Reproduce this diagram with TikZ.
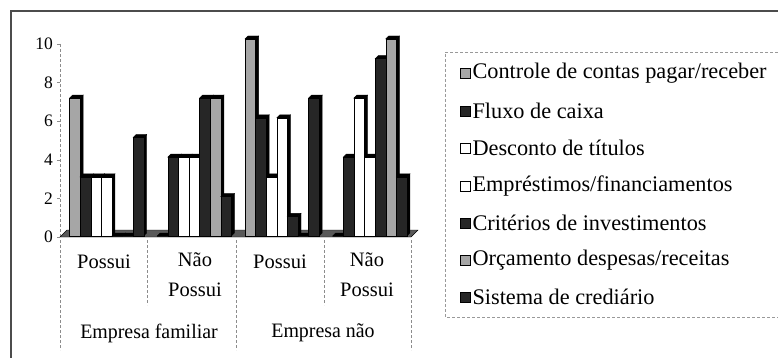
\documentclass[tikz,border=0pt]{standalone}
\usepackage{fontspec}
\setmainfont{Liberation Serif}
\usetikzlibrary{positioning}

% one 3D column: left x, value, style of the front face
\newcommand{\colbar}[3]{%
  \pgfmathsetmacro{\bl}{#1}
  \pgfmathsetmacro{\br}{#1+10.6}
  \pgfmathsetmacro{\bt}{236-19.7*#2}
  \draw[black,fill=black] (\br,236) -- (\br+3,233) -- (\br+3,\bt-3) -- (\br,\bt) -- cycle;
  \draw[black,fill=black] (\bl,\bt) -- (\bl+3,\bt-3) -- (\br+3,\bt-3) -- (\br,\bt) -- cycle;
  \draw[#3] (\bl,236) rectangle (\br,\bt);
}

\begin{document}
\begin{tikzpicture}[x=1pt,y=-1pt,
  grayface/.style={draw=black,fill=black!35},
  darkface/.style={draw=black,fill=black!85},
  whiteface/.style={draw=black,fill=white},
  swatch/.style={rectangle,minimum size=10pt,inner sep=0pt,line width=0.6pt},
  legtext/.style={inner sep=0pt,anchor=west,font=\fontsize{22.3}{24}\selectfont},
  catlabel/.style={inner sep=0pt,align=center,font=\fontsize{20.5}{30}\selectfont},
  ticklabel/.style={inner sep=0pt,anchor=east,font=\fontsize{17.5}{20}\selectfont},
  sep/.style={black!45,densely dashed,line width=0.5pt}]
\useasboundingbox (0,0) rectangle (778,358);

% frame
\draw[black!70,line width=1.4pt] (11,358) -- (11,11) -- (778,11);

% value axis
\draw[sep] (60,44) -- (60,237);
\foreach \v in {0,2,...,10} {
  \node[ticklabel] (tick\v) at (53,237-19.3*\v) {\v};
  \draw[black!45] (57,237-19.3*\v) -- (60,237-19.3*\v);
}

% floor
\draw[black,fill=black!65] (60,237) -- (411,237) -- (418,230) -- (67,230) -- cycle;

% columns
\foreach \g/\a/\b/\c/\d/\e/\f/\h in {69.5/7/3/3/3/0/0/5, 157.2/0/4/4/4/7/7/2,
                                    245/10/6/3/6/1/0/7, 332.7/0/4/7/4/9/10/3} {
  \colbar{\g}{\a}{grayface}
  \colbar{\g+10.6}{\b}{darkface}
  \colbar{\g+21.2}{\c}{whiteface}
  \colbar{\g+31.8}{\d}{whiteface}
  \colbar{\g+42.4}{\e}{darkface}
  \colbar{\g+53}{\f}{grayface}
  \colbar{\g+63.6}{\h}{darkface}
}

% category axis
\draw[sep] (60,240) -- (60,350);
\draw[sep] (147,240) -- (147,305);
\draw[sep] (236,240) -- (236,350);
\draw[sep] (324,240) -- (324,305);
\draw[sep] (411,240) -- (411,350);
\node[catlabel] (pos1) at (104,262) {Possui};
\node[catlabel] (nao1) at (195,275) {Não\\Possui};
\node[catlabel] (pos2) at (280,262) {Possui};
\node[catlabel] (nao2) at (367,275) {Não\\Possui};
\node[catlabel] (fam) at (149,333) {\scalebox{0.97}[1]{Empresa familiar}};
\node[catlabel] (nfam) at (323,333) {\scalebox{0.97}[1]{Empresa não}};

% legend
\draw[black!40,densely dashed,line width=0.6pt] (778,52) -- (445,52) -- (445,317) -- (778,317);
\node[swatch,grayface] (s1) at (465,73) {};
\node[swatch,darkface] (s2) at (465,111) {};
\node[swatch,whiteface] (s3) at (465,148) {};
\node[swatch,whiteface] (s4) at (465,186) {};
\node[swatch,darkface] (s5) at (465,223) {};
\node[swatch,grayface] (s6) at (465,260) {};
\node[swatch,darkface] (s7) at (465,297) {};
\node[legtext,right=2pt of s1] (t1) {Controle de contas pagar/receber};
\node[legtext,right=2pt of s2] (t2) {Fluxo de caixa};
\node[legtext,right=2pt of s3] (t3) {Desconto de títulos};
\node[legtext,right=2pt of s4] (t4) {Empréstimos/financiamentos};
\node[legtext,right=2pt of s5] (t5) {Critérios de investimentos};
\node[legtext,right=2pt of s6] (t6) {Orçamento despesas/receitas};
\node[legtext,right=2pt of s7] (t7) {Sistema de crediário};
\end{tikzpicture}
\end{document}
